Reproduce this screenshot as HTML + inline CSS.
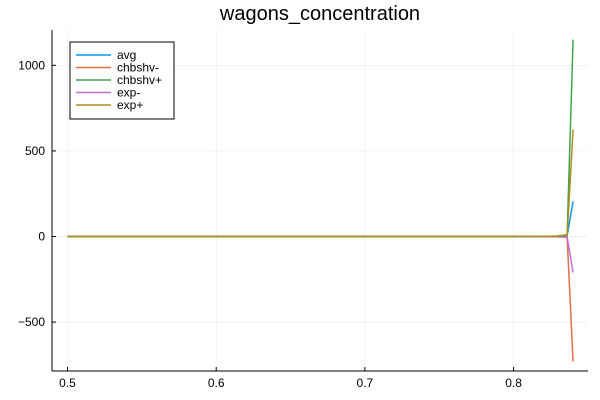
<!DOCTYPE html>
<html><head><meta charset="utf-8"><style>
body{margin:0;background:#fff;}
svg{display:block;font-family:"Liberation Sans",sans-serif;}
</style></head><body>
<svg id="chart" width="600" height="400">
<text x="320" y="20" font-size="20" text-anchor="middle" fill="#000">wagons_concentration</text>
<g id="grid"></g><g id="series"></g><g id="axes"></g>
<g>
<rect x="70" y="42" width="104" height="77" fill="#fff" stroke="#000" stroke-width="1"/>
<g id="legend"></g>
</g>
</svg>
<script>
const xs=[0.5,0.55,0.6,0.65,0.7,0.75,0.8,0.82,0.83,0.836,0.84];
const seriesNames=["avg","chbshv-","chbshv+","exp-","exp+"];
const colors=["#009af9","#e26f46","#3da44d","#c271d2","#ac8e18"];
const avgVals=[0,0,0,0,0,0,0,0.5,2,5,205];
const chbMinusVals=[0,0,0,0,0,0,0,-0.5,-2,-5,-730];
const chbPlusVals=[0,0,0,0,0,0,0,1,3,10,1150];
const expMinusVals=[0,0,0,0,0,0,0,-0.3,-1,-3,-210];
const expPlusVals=[0,0,0,0,0,0,0,0.6,2,6,625];
const allVals=[avgVals,chbMinusVals,chbPlusVals,expMinusVals,expPlusVals];
const xTicks=[0.5,0.6,0.7,0.8];
const yTicks=[-500,0,500,1000];
const yTickLabels=["\u2212500","0","500","1000"];
const L=52,R=588,T=30,B=371;
const sx=v=>67.5+(v-0.5)*1487;
const sy=v=>236.5-v*0.1712;
const NS="http://www.w3.org/2000/svg";
function mk(tag,attrs,parent){const e=document.createElementNS(NS,tag);for(const k in attrs)e.setAttribute(k,attrs[k]);parent.appendChild(e);return e;}
const grid=document.getElementById('grid'),axes=document.getElementById('axes'),ser=document.getElementById('series'),leg=document.getElementById('legend');
xTicks.forEach(t=>{
 const g=mk('line',{x1:sx(t),x2:sx(t),y1:T,y2:B,stroke:"#000","stroke-opacity":0.1,"stroke-width":0.5},grid);
 
 
 mk('line',{x1:sx(t),x2:sx(t),y1:B,y2:B-4,stroke:"#000"},axes);
 const tx=mk('text',{x:sx(t),y:B+16,"font-size":12,"text-anchor":"middle"},axes);tx.textContent=String(t);
 
 
});
yTicks.forEach((t,i)=>{
 const g=mk('line',{x1:L,x2:R,y1:sy(t),y2:sy(t),stroke:"#000","stroke-opacity":0.1,"stroke-width":0.5},grid);
 
 
 mk('line',{x1:L,x2:L+4,y1:sy(t),y2:sy(t),stroke:"#000"},axes);
 const tx=mk('text',{x:L-7,y:sy(t)+4,"font-size":12,"text-anchor":"end"},axes);tx.textContent=yTickLabels[i];
 
 
});
const xa=mk('line',{x1:L,x2:R,y1:B,y2:B,stroke:"#000","stroke-width":1},axes);


const ya=mk('line',{x1:L,x2:L,y1:T,y2:B,stroke:"#000","stroke-width":1},axes);


allVals.forEach((vals,si)=>{
 const p=mk('polyline',{points:xs.map((x,i)=>sx(x)+","+sy(vals[i])).join(" "),fill:"none",stroke:colors[si],"stroke-width":1.5},ser);
 
 
 const y=55+si*12.5;
 const g=mk('g',{},leg);
 
 
 mk('line',{x1:76,x2:111,y1:y,y2:y,stroke:colors[si],"stroke-width":1.5},g);
 const t=mk('text',{x:117,y:y+4,"font-size":12},g);t.textContent=seriesNames[si];
});
</script>
</body></html>
